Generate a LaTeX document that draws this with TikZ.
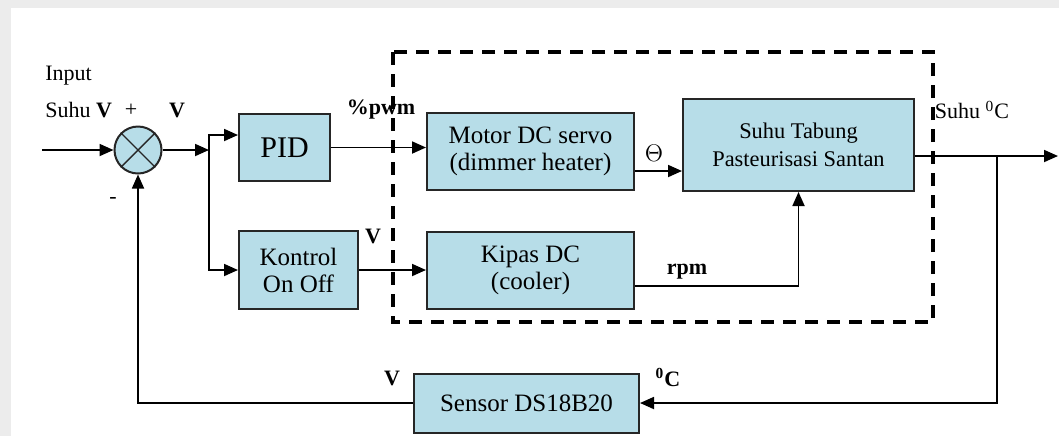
\documentclass[tikz,border=0pt]{standalone}
\usepackage{fontspec}
\setmainfont{LiberationSerif}[Extension=.ttf, UprightFont=*-Regular, BoldFont=*-Bold, ItalicFont=*-Italic, BoldItalicFont=*-BoldItalic]
\usetikzlibrary{arrows.meta,calc}
\definecolor{boxblue}{HTML}{B7DDE8}
\definecolor{edgegray}{HTML}{262626}

\begin{document}
\begin{tikzpicture}[x=0.5pt, y=-0.5pt,
  blk/.style={draw=edgegray, fill=boxblue, line width=1pt, align=center, inner sep=0pt, font=\fontsize{12.5}{13.5}\selectfont},
  sumnode/.style={draw=edgegray, fill=boxblue, circle, line width=1pt, minimum size=23.5pt, inner sep=0pt},
  lbl/.style={font=\fontsize{11}{13}\selectfont, inner sep=1pt},
  blbl/.style={font=\fontsize{11}{13}\selectfont\bfseries, inner sep=1pt},
  arrow/.style={-{Triangle[length=7pt,width=6pt]}, line width=0.9pt},
  wire/.style={line width=0.9pt},
  dashbox/.style={line width=2pt, dash pattern=on 6.5pt off 4.5pt}
]
% latar
\fill[gray!15] (0,0) rectangle (1059,436);
\fill[white] (11,8) rectangle (1059,436);
\useasboundingbox (0,0) rectangle (1059,436);

% titik penjumlah dan percabangan
\node[sumnode] (sum) at (138,150) {};
\draw[line width=0.7pt, edgegray] (sum.north west) -- (sum.south east) (sum.north east) -- (sum.south west);
\coordinate (in) at (42,150);
\coordinate (br1) at (209,150);
\coordinate (br2) at (997,156);
\coordinate (out) at (1058,156);

% blok kontrol
\node[blk, minimum width=45.5pt, minimum height=33.5pt, font=\fontsize{15}{17}\selectfont] (pid) at (284.5,147.5) {PID};
\node[blk, minimum width=59.5pt, minimum height=39pt] (onoff) at (298.5,270) {Kontrol\\On Off};

% plant
\node[blk, minimum width=103.5pt, minimum height=38.5pt] (motor) at (530.5,151.5) {Motor DC servo\\(dimmer heater)};
\node[blk, minimum width=103.5pt, minimum height=38.5pt] (kipas) at (530.5,270.5) {Kipas DC\\(cooler)};
\node[blk, minimum width=115.5pt, minimum height=46pt, font=\fontsize{11.2}{14}\selectfont] (tabung) at (798.5,145) {Suhu Tabung\\Pasteurisasi Santan};

% umpan balik
\node[blk, minimum width=112.5pt, minimum height=29.5pt] (sensor) at (526.5,403) {Sensor DS18B20};

% label
\node[lbl, anchor=west] (input) at (43,76) {Input};
\node[lbl, anchor=west] (insuhu) at (43,110) {Suhu \textbf{V}};
\node[lbl] (plus) at (131,110) {+};
\node[lbl] (minus) at (113,200) {-};
\node[blbl] (verr) at (177,110) {V};
\node[blbl] (pwm) at (381,110) {\%pwm};
\node[blbl] (vfan) at (373,236) {V};
\node[lbl, font=\fontsize{13}{15}\selectfont] (theta) at (654,153) {$\Theta$};
\node[blbl] (rpm) at (687,272) {rpm};
\node[lbl] (outlbl) at (972,110) {Suhu \textsuperscript{0}C};
\node[blbl] (vsens) at (392,378) {V};
\node[blbl] (csens) at (668,377) {\textsuperscript{0}C};

% panah
\draw[arrow] (in) -- (sum.west);
\draw[arrow] (sum.east) -- (br1);
\draw[arrow] (br1) |- ([yshift=6.25pt]pid.west);
\draw[arrow] (br1) |- (onoff.west);
\draw[arrow] (pid.east) -- (pid.east -| motor.west);
\draw[arrow] (onoff.east) -- (onoff.east -| kipas.west);
\draw[arrow] ([yshift=-9.75pt]motor.east) -- ([yshift=-9.75pt]motor.east -| tabung.west);
\draw[arrow] ([yshift=-7.75pt]kipas.east) -| (tabung.south);
\draw[arrow] ([yshift=-5.5pt]tabung.east) -- (out);
\draw[arrow] (br2) |- (sensor.east);
\draw[arrow] (sensor.west) -| (sum.south);

% batas plant
\draw[dashbox] (393,52) rectangle (933,322);
\end{tikzpicture}
\end{document}
